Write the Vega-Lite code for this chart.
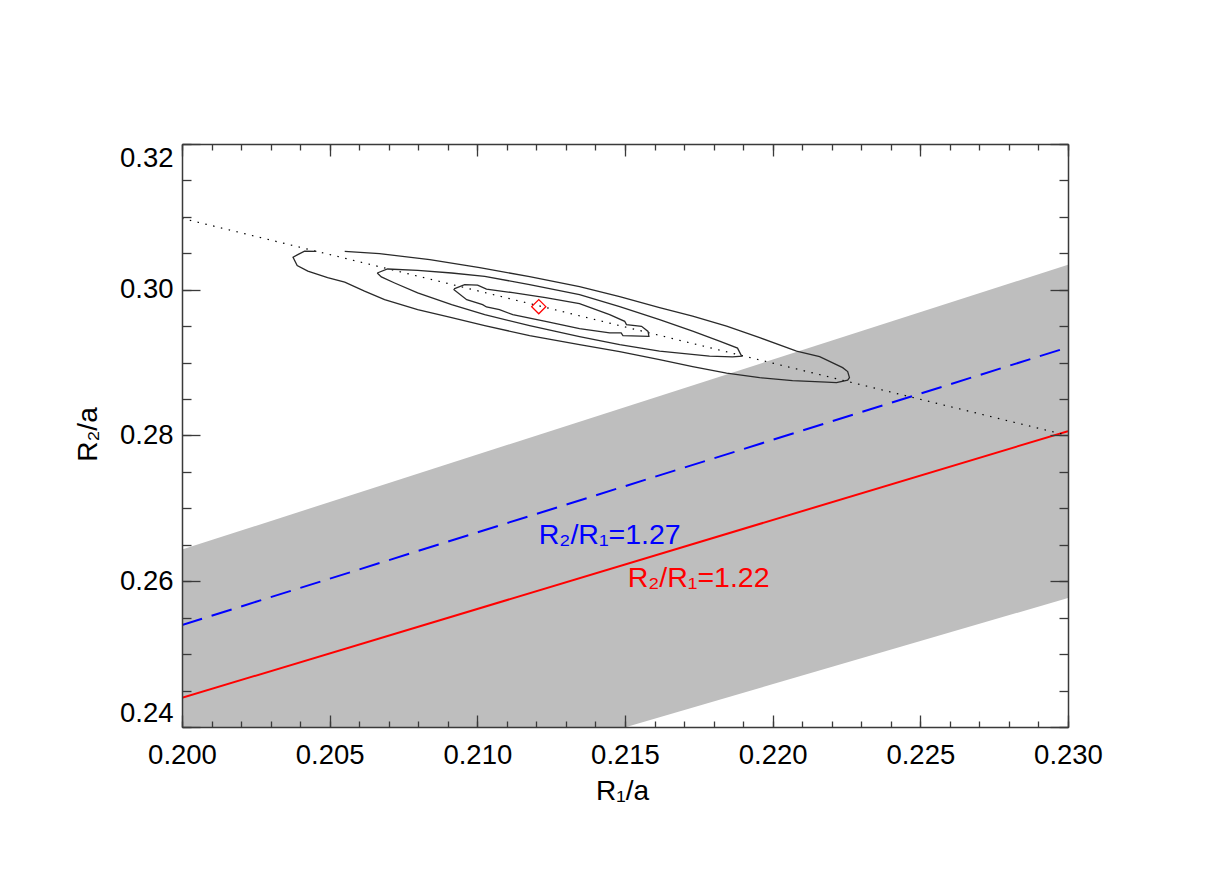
{
  "$schema": "https://vega.github.io/schema/vega-lite/v6.json",
  "width": 886,
  "height": 583,
  "autosize": "none",
  "padding": {"left": 182, "top": 144, "right": 153, "bottom": 145},
  "background": "white",
  "config": {
    "view": {"stroke": null},
    "axis": {
      "labelFont": "Liberation Sans",
      "titleFont": "Liberation Sans",
      "labelColor": "black",
      "titleColor": "black",
      "tickColor": "#3a3a3a",
      "domainColor": "#3a3a3a",
      "tickWidth": 1.3,
      "domainWidth": 1.5,
      "grid": false,
      "labelFontSize": 27.5,
      "titleFontSize": 28,
      "titleFontWeight": "normal"
    }
  },
  "datasets": {
    "band": [
      {"r1": 0.2, "upper": 0.26435, "lower": 0.2222},
      {"r1": 0.23, "upper": 0.30344, "lower": 0.2577}
    ],
    "red": [
      {"r1": 0.2, "r2": 0.244},
      {"r1": 0.23, "r2": 0.2806}
    ],
    "blue": [
      {"r1": 0.2, "r2": 0.254},
      {"r1": 0.23, "r2": 0.2921}
    ],
    "dotted": [
      {"r1": 0.2, "r2": 0.3098},
      {"r1": 0.23, "r2": 0.2800}
    ],
    "best": [
      {"r1": 0.21208, "r2": 0.29768}
    ],
    "lab127": [
      {"label": "R₂/R₁=1.27", "r1": 0.21208, "r2": 0.26517}
    ],
    "lab122": [
      {"label": "R₂/R₁=1.22", "r1": 0.21509, "r2": 0.25927}
    ],
    "contours": [
      {"level": "outer", "i": 1, "r1": 0.20455, "r2": 0.30527},
      {"level": "outer", "i": 2, "r1": 0.20415, "r2": 0.30530},
      {"level": "outer", "i": 3, "r1": 0.20392, "r2": 0.30482},
      {"level": "outer", "i": 4, "r1": 0.20376, "r2": 0.30447},
      {"level": "outer", "i": 5, "r1": 0.20390, "r2": 0.30331},
      {"level": "outer", "i": 6, "r1": 0.20426, "r2": 0.30255},
      {"level": "outer", "i": 7, "r1": 0.20493, "r2": 0.30166},
      {"level": "outer", "i": 8, "r1": 0.20551, "r2": 0.30104},
      {"level": "outer", "i": 9, "r1": 0.20618, "r2": 0.29981},
      {"level": "outer", "i": 10, "r1": 0.20686, "r2": 0.29864},
      {"level": "outer", "i": 11, "r1": 0.20798, "r2": 0.29727},
      {"level": "outer", "i": 12, "r1": 0.20913, "r2": 0.29617},
      {"level": "outer", "i": 13, "r1": 0.21025, "r2": 0.29508},
      {"level": "outer", "i": 14, "r1": 0.21177, "r2": 0.29370},
      {"level": "outer", "i": 15, "r1": 0.21346, "r2": 0.29247},
      {"level": "outer", "i": 16, "r1": 0.21482, "r2": 0.29151},
      {"level": "outer", "i": 17, "r1": 0.21617, "r2": 0.29041},
      {"level": "outer", "i": 18, "r1": 0.21729, "r2": 0.28945},
      {"level": "outer", "i": 19, "r1": 0.21844, "r2": 0.28856},
      {"level": "outer", "i": 20, "r1": 0.21956, "r2": 0.28794},
      {"level": "outer", "i": 21, "r1": 0.22067, "r2": 0.28753},
      {"level": "outer", "i": 22, "r1": 0.22182, "r2": 0.28732},
      {"level": "outer", "i": 23, "r1": 0.22216, "r2": 0.28726},
      {"level": "outer", "i": 24, "r1": 0.22254, "r2": 0.28760},
      {"level": "outer", "i": 25, "r1": 0.22260, "r2": 0.28794},
      {"level": "outer", "i": 26, "r1": 0.22254, "r2": 0.28877},
      {"level": "outer", "i": 27, "r1": 0.22237, "r2": 0.28931},
      {"level": "outer", "i": 28, "r1": 0.22159, "r2": 0.29082},
      {"level": "outer", "i": 29, "r1": 0.22081, "r2": 0.29158},
      {"level": "outer", "i": 30, "r1": 0.21956, "r2": 0.29343},
      {"level": "outer", "i": 31, "r1": 0.21844, "r2": 0.29501},
      {"level": "outer", "i": 32, "r1": 0.21729, "r2": 0.29638},
      {"level": "outer", "i": 33, "r1": 0.21617, "r2": 0.29754},
      {"level": "outer", "i": 34, "r1": 0.21482, "r2": 0.29905},
      {"level": "outer", "i": 35, "r1": 0.21346, "r2": 0.30043},
      {"level": "outer", "i": 36, "r1": 0.21177, "r2": 0.30180},
      {"level": "outer", "i": 37, "r1": 0.21008, "r2": 0.30303},
      {"level": "outer", "i": 38, "r1": 0.20839, "r2": 0.30413},
      {"level": "outer", "i": 39, "r1": 0.20669, "r2": 0.30495},
      {"level": "outer", "i": 40, "r1": 0.20551, "r2": 0.30527},

      {"level": "middle", "i": 1, "r1": 0.20661, "r2": 0.30230},
      {"level": "middle", "i": 2, "r1": 0.20696, "r2": 0.30285},
      {"level": "middle", "i": 3, "r1": 0.20798, "r2": 0.30266},
      {"level": "middle", "i": 4, "r1": 0.20913, "r2": 0.30230},
      {"level": "middle", "i": 5, "r1": 0.21025, "r2": 0.30184},
      {"level": "middle", "i": 6, "r1": 0.21177, "r2": 0.30070},
      {"level": "middle", "i": 7, "r1": 0.21346, "r2": 0.29933},
      {"level": "middle", "i": 8, "r1": 0.21482, "r2": 0.29768},
      {"level": "middle", "i": 9, "r1": 0.21617, "r2": 0.29590},
      {"level": "middle", "i": 10, "r1": 0.21729, "r2": 0.29432},
      {"level": "middle", "i": 11, "r1": 0.21820, "r2": 0.29295},
      {"level": "middle", "i": 12, "r1": 0.21881, "r2": 0.29199},
      {"level": "middle", "i": 13, "r1": 0.21895, "r2": 0.29089},
      {"level": "middle", "i": 14, "r1": 0.21864, "r2": 0.29078},
      {"level": "middle", "i": 15, "r1": 0.21786, "r2": 0.29089},
      {"level": "middle", "i": 16, "r1": 0.21617, "r2": 0.29158},
      {"level": "middle", "i": 17, "r1": 0.21482, "r2": 0.29247},
      {"level": "middle", "i": 18, "r1": 0.21346, "r2": 0.29357},
      {"level": "middle", "i": 19, "r1": 0.21177, "r2": 0.29508},
      {"level": "middle", "i": 20, "r1": 0.21025, "r2": 0.29658},
      {"level": "middle", "i": 21, "r1": 0.20913, "r2": 0.29796},
      {"level": "middle", "i": 22, "r1": 0.20798, "r2": 0.29956},
      {"level": "middle", "i": 23, "r1": 0.20720, "r2": 0.30093},
      {"level": "middle", "i": 24, "r1": 0.20675, "r2": 0.30176},
      {"level": "middle", "i": 25, "r1": 0.20661, "r2": 0.30230},

      {"level": "inner", "i": 1, "r1": 0.20921, "r2": 0.30011},
      {"level": "inner", "i": 2, "r1": 0.20957, "r2": 0.30070},
      {"level": "inner", "i": 3, "r1": 0.21001, "r2": 0.30063},
      {"level": "inner", "i": 4, "r1": 0.21031, "r2": 0.30008},
      {"level": "inner", "i": 5, "r1": 0.21120, "r2": 0.29960},
      {"level": "inner", "i": 6, "r1": 0.21231, "r2": 0.29892},
      {"level": "inner", "i": 7, "r1": 0.21346, "r2": 0.29809},
      {"level": "inner", "i": 8, "r1": 0.21448, "r2": 0.29658},
      {"level": "inner", "i": 9, "r1": 0.21499, "r2": 0.29567},
      {"level": "inner", "i": 10, "r1": 0.21505, "r2": 0.29521},
      {"level": "inner", "i": 11, "r1": 0.21556, "r2": 0.29498},
      {"level": "inner", "i": 12, "r1": 0.21578, "r2": 0.29429},
      {"level": "inner", "i": 13, "r1": 0.21581, "r2": 0.29361},
      {"level": "inner", "i": 14, "r1": 0.21493, "r2": 0.29370},
      {"level": "inner", "i": 15, "r1": 0.21487, "r2": 0.29407},
      {"level": "inner", "i": 16, "r1": 0.21448, "r2": 0.29407},
      {"level": "inner", "i": 17, "r1": 0.21346, "r2": 0.29466},
      {"level": "inner", "i": 18, "r1": 0.21235, "r2": 0.29562},
      {"level": "inner", "i": 19, "r1": 0.21120, "r2": 0.29658},
      {"level": "inner", "i": 20, "r1": 0.21075, "r2": 0.29727},
      {"level": "inner", "i": 21, "r1": 0.21031, "r2": 0.29764},
      {"level": "inner", "i": 22, "r1": 0.21018, "r2": 0.29796},
      {"level": "inner", "i": 23, "r1": 0.20964, "r2": 0.29864},
      {"level": "inner", "i": 24, "r1": 0.20921, "r2": 0.30001},
      {"level": "inner", "i": 25, "r1": 0.20921, "r2": 0.30011}
    ]
  },
  "resolve": {"axis": {"x": "independent", "y": "independent"}},
  "layer": [
    {
      "data": {"name": "band"},
      "mark": {"type": "area", "color": "#bebebe", "clip": true, "orient": "vertical"},
      "encoding": {
        "x": {
          "field": "r1", "type": "quantitative",
          "scale": {"domain": [0.2, 0.23], "nice": false, "zero": false},
          "axis": {
            "orient": "bottom",
            "values": [0.2, 0.205, 0.21, 0.215, 0.22, 0.225, 0.23],
            "format": ".3f", "ticks": false, "tickSize": 0, "domain": false,
            "labelPadding": 14, "labelFlush": false, "labelOverlap": false,
            "title": "R₁/a", "titleX": 440, "titleY": 72,
            "titleBaseline": "alphabetic", "titleAlign": "center"
          }
        },
        "y": {
          "field": "upper", "type": "quantitative",
          "scale": {"domain": [0.24, 0.32], "nice": false, "zero": false},
          "axis": {
            "orient": "left",
            "values": [0.24, 0.26, 0.28, 0.3, 0.32],
            "format": ".2f", "ticks": false, "tickSize": 0, "domain": false,
            "labelPadding": 9, "labelFlush": true, "labelOverlap": false,
            "title": "R₂/a", "titleX": -86, "titleY": 290, "titleAngle": 270,
            "titleBaseline": "alphabetic", "titleAlign": "center"
          }
        },
        "y2": {"field": "lower"}
      }
    },
    {
      "data": {"name": "red"},
      "mark": {"type": "line", "color": "#ff0000", "strokeWidth": 2, "clip": true},
      "encoding": {
        "x": {
          "field": "r1", "type": "quantitative",
          "scale": {"domain": [0.2, 0.23], "nice": false, "zero": false},
          "axis": {
            "orient": "bottom", "values": [0.2, 0.205, 0.21, 0.215, 0.22, 0.225, 0.23],
            "tickSize": -12, "labels": false, "domain": true, "title": null, "zindex": 1
          }
        },
        "y": {
          "field": "r2", "type": "quantitative",
          "scale": {"domain": [0.24, 0.32], "nice": false, "zero": false},
          "axis": {
            "orient": "left", "values": [0.24, 0.26, 0.28, 0.3, 0.32],
            "tickSize": -18, "labels": false, "domain": true, "title": null, "zindex": 1
          }
        }
      }
    },
    {
      "data": {"name": "blue"},
      "mark": {"type": "line", "color": "#0000ff", "strokeWidth": 2, "strokeDash": [21, 10], "clip": true},
      "encoding": {
        "x": {
          "field": "r1", "type": "quantitative",
          "scale": {"domain": [0.2, 0.23], "nice": false, "zero": false},
          "axis": {
            "orient": "bottom",
            "values": [0.2, 0.201, 0.202, 0.203, 0.204, 0.205, 0.206, 0.207, 0.208, 0.209, 0.21, 0.211, 0.212, 0.213, 0.214, 0.215, 0.216, 0.217, 0.218, 0.219, 0.22, 0.221, 0.222, 0.223, 0.224, 0.225, 0.226, 0.227, 0.228, 0.229, 0.23],
            "tickSize": -6, "labels": false, "domain": false, "title": null, "zindex": 1
          }
        },
        "y": {
          "field": "r2", "type": "quantitative",
          "scale": {"domain": [0.24, 0.32], "nice": false, "zero": false},
          "axis": {
            "orient": "left",
            "values": [0.24, 0.245, 0.25, 0.255, 0.26, 0.265, 0.27, 0.275, 0.28, 0.285, 0.29, 0.295, 0.3, 0.305, 0.31, 0.315, 0.32],
            "tickSize": -9, "labels": false, "domain": false, "title": null, "zindex": 1
          }
        }
      }
    },
    {
      "data": {"name": "dotted"},
      "mark": {"type": "line", "color": "#000000", "strokeWidth": 1.2, "strokeDash": [1.5, 6.5], "clip": true},
      "encoding": {
        "x": {
          "field": "r1", "type": "quantitative",
          "scale": {"domain": [0.2, 0.23], "nice": false, "zero": false},
          "axis": {
            "orient": "top", "values": [0.2, 0.205, 0.21, 0.215, 0.22, 0.225, 0.23],
            "tickSize": -12, "labels": false, "domain": true, "title": null, "zindex": 1
          }
        },
        "y": {
          "field": "r2", "type": "quantitative",
          "scale": {"domain": [0.24, 0.32], "nice": false, "zero": false},
          "axis": {
            "orient": "right", "values": [0.24, 0.26, 0.28, 0.3, 0.32],
            "tickSize": -18, "labels": false, "domain": true, "title": null, "zindex": 1
          }
        }
      }
    },
    {
      "data": {"name": "contours"},
      "mark": {"type": "line", "color": "#2a2a2a", "strokeWidth": 1.3, "clip": true},
      "encoding": {
        "x": {
          "field": "r1", "type": "quantitative",
          "scale": {"domain": [0.2, 0.23], "nice": false, "zero": false},
          "axis": {
            "orient": "top",
            "values": [0.2, 0.201, 0.202, 0.203, 0.204, 0.205, 0.206, 0.207, 0.208, 0.209, 0.21, 0.211, 0.212, 0.213, 0.214, 0.215, 0.216, 0.217, 0.218, 0.219, 0.22, 0.221, 0.222, 0.223, 0.224, 0.225, 0.226, 0.227, 0.228, 0.229, 0.23],
            "tickSize": -6, "labels": false, "domain": false, "title": null, "zindex": 1
          }
        },
        "y": {
          "field": "r2", "type": "quantitative",
          "scale": {"domain": [0.24, 0.32], "nice": false, "zero": false},
          "axis": {
            "orient": "right",
            "values": [0.24, 0.245, 0.25, 0.255, 0.26, 0.265, 0.27, 0.275, 0.28, 0.285, 0.29, 0.295, 0.3, 0.305, 0.31, 0.315, 0.32],
            "tickSize": -9, "labels": false, "domain": false, "title": null, "zindex": 1
          }
        },
        "detail": {"field": "level", "type": "nominal"},
        "order": {"field": "i", "type": "quantitative"}
      }
    },
    {
      "data": {"name": "best"},
      "mark": {"type": "point", "shape": "diamond", "filled": false, "stroke": "#ff0000", "strokeWidth": 1.3, "size": 200, "opacity": 1},
      "encoding": {
        "x": {"field": "r1", "type": "quantitative", "axis": null},
        "y": {"field": "r2", "type": "quantitative", "axis": null}
      }
    },
    {
      "data": {"name": "lab127"},
      "mark": {"type": "text", "color": "#0000ff", "font": "Liberation Sans", "fontSize": 28.5, "align": "left", "baseline": "alphabetic"},
      "encoding": {
        "x": {"field": "r1", "type": "quantitative", "axis": null},
        "y": {"field": "r2", "type": "quantitative", "axis": null},
        "text": {"field": "label"}
      }
    },
    {
      "data": {"name": "lab122"},
      "mark": {"type": "text", "color": "#ff0000", "font": "Liberation Sans", "fontSize": 28.5, "align": "left", "baseline": "alphabetic"},
      "encoding": {
        "x": {"field": "r1", "type": "quantitative", "axis": null},
        "y": {"field": "r2", "type": "quantitative", "axis": null},
        "text": {"field": "label"}
      }
    }
  ]
}
